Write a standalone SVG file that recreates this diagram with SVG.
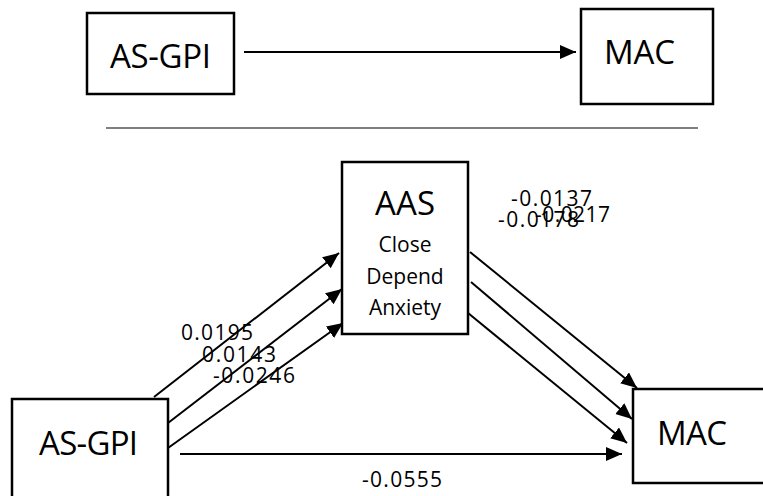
<svg xmlns="http://www.w3.org/2000/svg" width="763" height="496" viewBox="0 0 763 496">
<defs>
<marker id="ah" markerUnits="userSpaceOnUse" markerWidth="16" markerHeight="16" refX="16" refY="7" orient="auto">
<path d="M0,0 L16,7 L0,14 z" fill="#000"/>
</marker>
<style>
.box{fill:#fff;stroke:#000;stroke-width:2.5}
.big{font-family:"Open Sans","Liberation Sans",sans-serif;font-size:33px;fill:#000}
.mid{font-family:"Open Sans","Liberation Sans",sans-serif;font-size:21px;fill:#000;text-anchor:middle}
.num{font-family:"Open Sans","Liberation Sans",sans-serif;font-size:21px;fill:#000}
.edge{stroke:#000;stroke-width:2;fill:none;marker-end:url(#ah)}
</style>
</defs>
<rect width="763" height="496" fill="#fff"/>
<g id="connectors">
<line class="edge" x1="244" y1="52" x2="576" y2="52"/>
<line x1="106" y1="128" x2="698" y2="128" stroke="#555" stroke-width="1.5"/>
<line class="edge" x1="154" y1="397" x2="339" y2="253"/>
<line class="edge" x1="168" y1="423" x2="342" y2="289"/>
<line class="edge" x1="168" y1="448" x2="343" y2="323"/>
<line class="edge" x1="470" y1="252" x2="637" y2="388"/>
<line class="edge" x1="471" y1="282" x2="632" y2="419"/>
<line class="edge" x1="468" y1="313" x2="627" y2="443"/>
<line class="edge" x1="180" y1="454" x2="622" y2="454"/>
<text class="num" x="181" y="340" textLength="72">0.0195</text>
<text class="num" x="202" y="362" textLength="74">0.0143</text>
<text class="num" x="213" y="383" textLength="82">-0.0246</text>
<text class="num" x="511" y="206" textLength="81">-0.0137</text>
<text class="num" x="535" y="222" textLength="75">-0.0217</text>
<text class="num" x="498" y="227" textLength="81">-0.0178</text>
<text class="num" x="362" y="487" textLength="80">-0.0555</text>
</g>
<g id="top-asgpi">
<rect class="box" x="87" y="13" width="147" height="81"/>
<text class="big" x="110" y="68" textLength="101">AS-GPI</text>
</g>
<g id="top-mac">
<rect class="box" x="581" y="9" width="132" height="95"/>
<text class="big" x="604" y="64" textLength="71">MAC</text>
</g>
<g id="aas">
<rect class="box" x="342" y="162" width="126" height="172"/>
<text class="big" x="375" y="215" textLength="60">AAS</text>
<text class="mid" x="405" y="252">Close</text>
<text class="mid" x="405" y="284">Depend</text>
<text class="mid" x="405" y="315">Anxiety</text>
</g>
<g id="bottom-asgpi">
<rect class="box" x="12" y="399" width="156" height="110"/>
<text class="big" x="39" y="455" textLength="99">AS-GPI</text>
</g>
<g id="bottom-mac">
<rect class="box" x="633" y="389" width="140" height="94"/>
<text class="big" x="657" y="445" textLength="70">MAC</text>
</g>
</svg>
